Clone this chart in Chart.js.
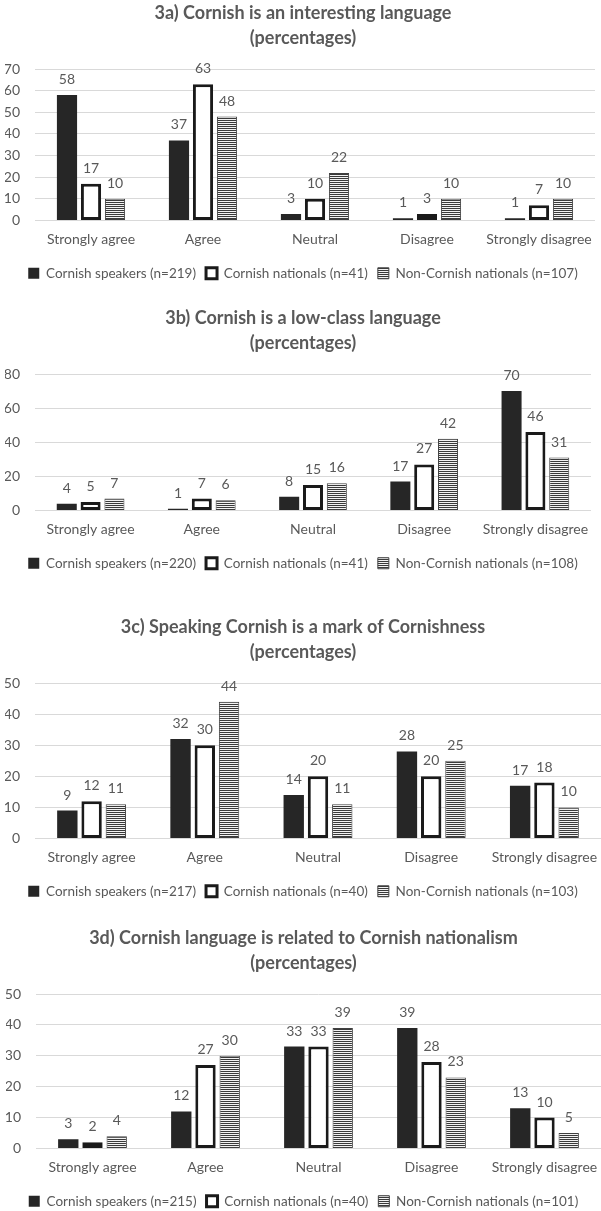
<!DOCTYPE html>
<html>
<head>
<meta charset="utf-8">
<script src="https://cdn.jsdelivr.net/npm/chart.js@4.4.1/dist/chart.umd.min.js"></script>
<style>
  html, body { margin: 0; padding: 0; background: #ffffff; overflow: hidden; }
  #page { position: relative; width: 601px; height: 1211px; overflow: hidden; background: #ffffff; }
  #page canvas { position: absolute; left: 0; }
</style>
</head>
<body>
<div id="page">
  <canvas id="chartA" width="601" height="290" style="top:0px"></canvas>
  <canvas id="chartB" width="601" height="275" style="top:305px"></canvas>
  <canvas id="chartC" width="601" height="294" style="top:614px"></canvas>
  <canvas id="chartD" width="601" height="293" style="top:925px"></canvas>
</div>
<script>
// Response categories shared by all four questions
const categories = ['Strongly agree', 'Agree', 'Neutral', 'Disagree', 'Strongly disagree'];

// 3a) Cornish is an interesting language
const titleA = ['3a) Cornish is an interesting language', '(percentages)'];
const legendA = ['Cornish speakers (n=219)', 'Cornish nationals (n=41)', 'Non-Cornish nationals (n=107)'];
const speakersA = [58, 37, 3, 1, 1];
const nationalsA = [17, 63, 10, 3, 7];
const nonNationalsA = [10, 48, 22, 10, 10];
const ticksA = { max: 70, step: 10 };

// 3b) Cornish is a low-class language
const titleB = ['3b) Cornish is a low-class language', '(percentages)'];
const legendB = ['Cornish speakers (n=220)', 'Cornish nationals (n=41)', 'Non-Cornish nationals (n=108)'];
const speakersB = [4, 1, 8, 17, 70];
const nationalsB = [5, 7, 15, 27, 46];
const nonNationalsB = [7, 6, 16, 42, 31];
const ticksB = { max: 80, step: 20 };

// 3c) Speaking Cornish is a mark of Cornishness
const titleC = ['3c) Speaking Cornish is a mark of Cornishness', '(percentages)'];
const legendC = ['Cornish speakers (n=217)', 'Cornish nationals (n=40)', 'Non-Cornish nationals (n=103)'];
const speakersC = [9, 32, 14, 28, 17];
const nationalsC = [12, 30, 20, 20, 18];
const nonNationalsC = [11, 44, 11, 25, 10];
const ticksC = { max: 50, step: 10 };

// 3d) Cornish language is related to Cornish nationalism
const titleD = ['3d) Cornish language is related to Cornish nationalism', '(percentages)'];
const legendD = ['Cornish speakers (n=215)', 'Cornish nationals (n=40)', 'Non-Cornish nationals (n=101)'];
const speakersD = [3, 12, 33, 39, 13];
const nationalsD = [2, 27, 33, 28, 10];
const nonNationalsD = [4, 30, 39, 23, 5];
const ticksD = { max: 50, step: 10 };

const FONT = 'Lato, "Open Sans", sans-serif';
const TEXT = '#595959';
const GRID = '#d9d9d9';

// Horizontal hatching used for the third group
function stripePattern() {
  const c = document.createElement('canvas');
  c.width = 4; c.height = 2;
  const g = c.getContext('2d');
  g.fillStyle = '#f2f2f2';
  g.fillRect(0, 0, 4, 2);
  g.fillStyle = '#3a3a3a';
  g.fillRect(0, 0, 4, 1);
  return g.createPattern(c, 'repeat');
}
const stripes = stripePattern();

// Prints each bar's value above it
const valueLabels = {
  id: 'valueLabels',
  afterDatasetsDraw(chart) {
    const ctx = chart.ctx;
    ctx.save();
    ctx.font = '14px ' + FONT;
    ctx.fillStyle = TEXT;
    ctx.textAlign = 'center';
    ctx.textBaseline = 'middle';
    chart.data.datasets.forEach((ds, i) => {
      chart.getDatasetMeta(i).data.forEach((bar, j) => {
        ctx.fillText(String(ds.data[j]), bar.x, bar.y - 15.5);
      });
    });
    ctx.restore();
  }
};

function makeChart(id, title, names, speakers, nationals, nonNationals, yTicks, padLeft, plotRightGap) {
  const common = { categoryPercentage: 0.643, barPercentage: 0.84 };
  return new Chart(document.getElementById(id), {
    type: 'bar',
    data: {
      labels: categories,
      datasets: [
        Object.assign({ label: names[0], data: speakers, backgroundColor: '#262626', borderWidth: 0 }, common),
        Object.assign({ label: names[1], data: nationals, backgroundColor: '#ffffff', borderColor: '#1a1a1a', borderWidth: 3, borderSkipped: false }, common),
        Object.assign({ label: names[2], data: nonNationals, backgroundColor: stripes, borderColor: '#404040', borderWidth: 1, borderSkipped: false }, common)
      ]
    },
    options: {
      responsive: false,
      animation: false,
      devicePixelRatio: 1,
      layout: { padding: { left: padLeft, right: 0, top: 0, bottom: 0 } },
      plugins: {
        title: {
          display: true,
          text: title,
          color: TEXT,
          font: { family: FONT, size: 18, weight: 'bold', lineHeight: '25px' },
          padding: { top: 0.5, bottom: 18.5 }
        },
        legend: {
          position: 'bottom',
          labels: {
            color: TEXT,
            font: { family: FONT, size: 13.5 },
            boxWidth: 11,
            boxHeight: 11,
            padding: 10
          }
        },
        tooltip: { enabled: false }
      },
      scales: {
        x: {
          grid: { display: false, drawTicks: true, tickLength: 11 },
          border: { display: false },
          ticks: { color: TEXT, font: { family: FONT, size: 14 }, padding: 0, maxRotation: 0 },
          afterFit(scale) {
            scale.height = 36;
            scale.paddingRight = Math.max(scale.paddingRight || 0, plotRightGap);
          }
        },
        y: {
          min: 0,
          max: yTicks.max,
          grid: { color: GRID, lineWidth: 1, drawTicks: false },
          border: { display: false },
          ticks: { stepSize: yTicks.step, color: TEXT, font: { family: FONT, size: 14 }, padding: 15 },
          afterFit(scale) { scale.width = 30; }
        }
      }
    },
    plugins: [valueLabels]
  });
}

makeChart('chartA', titleA, legendA, speakersA, nationalsA, nonNationalsA, ticksA, 5, 6);
makeChart('chartB', titleB, legendB, speakersB, nationalsB, nonNationalsB, ticksB, 5, 10);
makeChart('chartC', titleC, legendC, speakersC, nationalsC, nonNationalsC, ticksC, 5, 0);
makeChart('chartD', titleD, legendD, speakersD, nationalsD, nonNationalsD, ticksD, 6, 0);
</script>
</body>
</html>
